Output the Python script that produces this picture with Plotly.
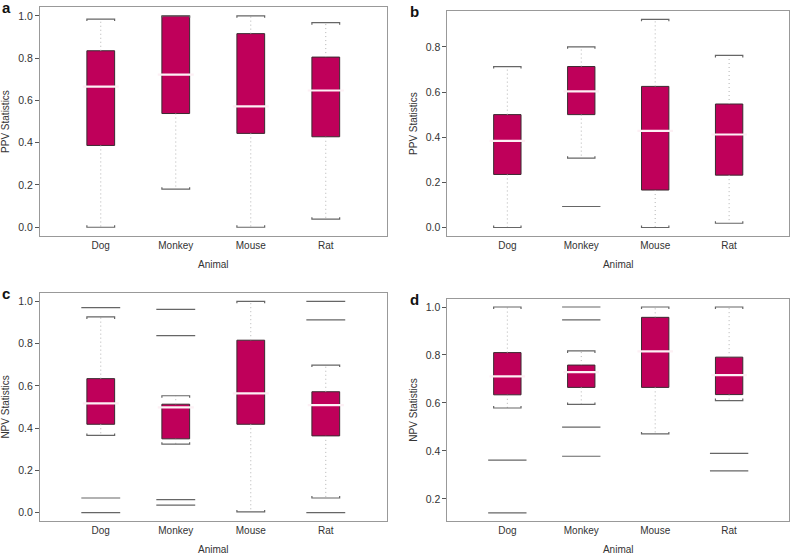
import plotly.graph_objects as go

# categories
animals = ["Dog", "Monkey", "Mouse", "Rat"]

# panel a: PPV statistics
a_upper = [0.985, 1.0, 1.0, 0.968]
a_q3 = [0.835, 1.0, 0.916, 0.805]
a_median = [0.665, 0.722, 0.572, 0.647]
a_q1 = [0.387, 0.538, 0.444, 0.428]
a_lower = [0.0, 0.18, 0.0, 0.038]
a_outliers = [[], [], [], []]

# panel b: PPV statistics
b_upper = [0.713, 0.8, 0.922, 0.762]
b_q3 = [0.5, 0.713, 0.625, 0.547]
b_median = [0.384, 0.603, 0.428, 0.412]
b_q1 = [0.235, 0.5, 0.166, 0.232]
b_lower = [0.0, 0.307, 0.0, 0.019]
b_outliers = [[], [0.093], [], []]

# panel c: NPV statistics
c_upper = [0.926, 0.553, 1.0, 0.698]
c_q3 = [0.634, 0.513, 0.816, 0.572]
c_median = [0.517, 0.498, 0.564, 0.509]
c_q1 = [0.418, 0.349, 0.418, 0.363]
c_lower = [0.365, 0.324, 0.003, 0.069]
c_outliers = [[0.97, 0.069, 0.0], [0.962, 0.838, 0.061, 0.035], [], [1.0, 0.912, 0.0]]

# panel d: NPV statistics
d_upper = [1.0, 0.817, 1.0, 1.0]
d_q3 = [0.81, 0.758, 0.957, 0.791]
d_median = [0.711, 0.729, 0.815, 0.716]
d_q1 = [0.634, 0.665, 0.665, 0.635]
d_lower = [0.579, 0.594, 0.471, 0.61]
d_outliers = [[0.362, 0.142], [1.0, 0.946, 0.499, 0.378], [], [0.39, 0.317]]

BOX_FILL = "#bf005a"
BOX_LINE = "#3a2a30"
CAP_COLOR = "#666666"
WHISKER_COLOR = "#b3b3b3"
FRAME_COLOR = "#999999"
TEXT_COLOR = "#333333"
FONT = "Liberation Sans, Arial, sans-serif"

W, H = 792, 555
ML, MR, MT, MB = 40, 2, 7, 32
PW, PH = W - ML - MR, H - MT - MB
BOX_W = 0.37
XRANGE = [0.19, 4.81]

panels = [
    dict(letter="a", title="PPV Statistics", upper=a_upper, q3=a_q3, med=a_median, q1=a_q1,
         lower=a_lower, out=a_outliers, px=(40, 387), py=(7, 237), yr=[-0.042, 1.042],
         ticks=[0.0, 0.2, 0.4, 0.6, 0.8, 1.0]),
    dict(letter="b", title="PPV Statistics", upper=b_upper, q3=b_q3, med=b_median, q1=b_q1,
         lower=b_lower, out=b_outliers, px=(448, 790), py=(11, 237), yr=[-0.038, 0.959],
         ticks=[0.0, 0.2, 0.4, 0.6, 0.8]),
    dict(letter="c", title="NPV Statistics", upper=c_upper, q3=c_q3, med=c_median, q1=c_q1,
         lower=c_lower, out=c_outliers, px=(40, 387), py=(294, 523), yr=[-0.04, 1.04],
         ticks=[0.0, 0.2, 0.4, 0.6, 0.8, 1.0]),
    dict(letter="d", title="NPV Statistics", upper=d_upper, q3=d_q3, med=d_median, q1=d_q1,
         lower=d_lower, out=d_outliers, px=(448, 790), py=(300, 523), yr=[0.108, 1.034],
         ticks=[0.2, 0.4, 0.6, 0.8, 1.0]),
]

xpos = list(range(1, len(animals) + 1))

fig = go.Figure()
layout_axes = {}
annotations = []

for i, p in enumerate(panels):
    n = "" if i == 0 else str(i + 1)
    xa, ya = "x" + n, "y" + n
    xdom = [(p["px"][0] - ML) / PW, (p["px"][1] - ML) / PW]
    ydom = [(H - MB - p["py"][1]) / PH, (H - MB - p["py"][0]) / PH]
    box_px = BOX_W * (p["px"][1] - p["px"][0]) / (XRANGE[1] - XRANGE[0])
    unit_px = (p["py"][1] - p["py"][0]) / (p["yr"][1] - p["yr"][0])
    tip = 2.0 / unit_px  # little bracket ends on the caps

    # dotted whiskers
    wx, wy = [], []
    for k, x in enumerate(xpos):
        wx += [x, x, None, x, x, None]
        wy += [p["q3"][k], p["upper"][k], None, p["q1"][k], p["lower"][k], None]
    fig.add_trace(go.Scatter(x=wx, y=wy, mode="lines", xaxis=xa, yaxis=ya,
                             line=dict(color=WHISKER_COLOR, width=1, dash="1px,3px"),
                             hoverinfo="skip", showlegend=False))

    # whisker caps
    cx, cy = [], []
    h = BOX_W / 2
    for k, x in enumerate(xpos):
        u, lo = p["upper"][k], p["lower"][k]
        cx += [x - h, x - h, x + h, x + h, None, x - h, x - h, x + h, x + h, None]
        cy += [u - tip, u, u, u - tip, None, lo + tip, lo, lo, lo + tip, None]
    fig.add_trace(go.Scatter(x=cx, y=cy, mode="lines", xaxis=xa, yaxis=ya,
                             line=dict(color=CAP_COLOR, width=1.2),
                             hoverinfo="skip", showlegend=False))

    # boxes
    fig.add_trace(go.Bar(x=xpos, y=[t - b for t, b in zip(p["q3"], p["q1"])], base=p["q1"],
                         width=BOX_W, xaxis=xa, yaxis=ya,
                         marker=dict(color=BOX_FILL, line=dict(color=BOX_LINE, width=1)),
                         showlegend=False))

    # medians
    fig.add_trace(go.Scatter(x=xpos, y=p["med"], mode="markers", xaxis=xa, yaxis=ya,
                             marker=dict(symbol="line-ew", size=box_px - 2,
                                         line=dict(color="#fdf0f5", width=2.2)),
                             showlegend=False))

    # outliers
    ox, oy = [], []
    for k, x in enumerate(xpos):
        for v in p["out"][k]:
            ox.append(x)
            oy.append(v)
    if ox:
        fig.add_trace(go.Scatter(x=ox, y=oy, mode="markers", xaxis=xa, yaxis=ya,
                                 marker=dict(symbol="line-ew", size=box_px,
                                             line=dict(color=CAP_COLOR, width=1.2)),
                                 showlegend=False))

    layout_axes["xaxis" + n] = dict(
        domain=xdom, range=XRANGE, tickvals=xpos, ticktext=animals, ticks="",
        showline=True, mirror=True, linecolor=FRAME_COLOR, linewidth=1.2,
        showgrid=False, zeroline=False, anchor=ya, fixedrange=True,
        title=dict(text="Animal", standoff=10, font=dict(size=10, color=TEXT_COLOR)),
        tickfont=dict(size=10, color=TEXT_COLOR))
    layout_axes["yaxis" + n] = dict(
        domain=ydom, range=p["yr"], tickvals=p["ticks"], tickformat=".1f",
        ticks="outside", ticklen=4, tickcolor="#555555", tickwidth=1,
        showline=True, mirror=True, linecolor=FRAME_COLOR, linewidth=1.2,
        showgrid=False, zeroline=False, anchor=xa, fixedrange=True,
        title=dict(text=p["title"], standoff=6, font=dict(size=10, color=TEXT_COLOR)),
        tickfont=dict(size=10.5, color=TEXT_COLOR))

    lx = 0 if p["px"][0] < 100 else 408
    annotations.append(dict(text="<b>" + p["letter"] + "</b>", xref="paper", yref="paper",
                            x=(lx - ML) / PW, y=(H - MB - (p["py"][0] + 1)) / PH,
                            xanchor="left", yanchor="middle", showarrow=False,
                            font=dict(size=15, color="#111111")))

fig.update_layout(
    width=W, height=H, margin=dict(l=ML, r=MR, t=MT, b=MB),
    paper_bgcolor="white", plot_bgcolor="white",
    font=dict(family=FONT, size=10, color=TEXT_COLOR),
    barmode="overlay", annotations=annotations, **layout_axes)

# the page adds an 8px body margin by default; drop it so the figure fills the window
fig.write_html("out.html", config={"displayModeBar": False},
               post_script="document.body.style.margin='0px';")
